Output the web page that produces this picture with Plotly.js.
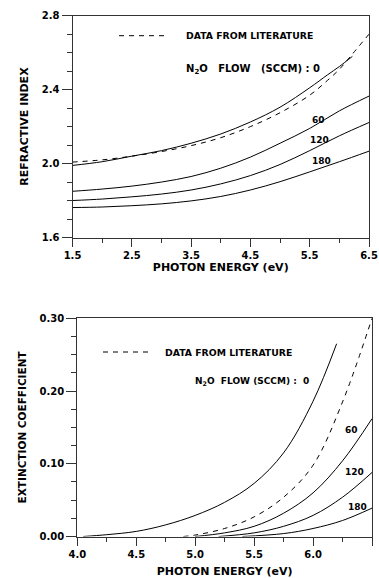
<!DOCTYPE html>
<html>
<head>
<meta charset="utf-8">
<script src="https://cdn.plot.ly/plotly-3.0.1.min.js"></script>
<style>html,body{margin:0;padding:0;background:#fff;}#chart{width:379px;height:578px;}</style>
</head>
<body>
<div id="chart"></div>
<script>
// ---- Refractive index (top panel) ----
const energyN = [1.5, 2.0, 2.5, 3.0, 3.5, 4.0, 4.5, 5.0, 5.5, 6.0, 6.5];
const energyN0 = [1.5, 2.0, 2.5, 3.0, 3.5, 4.0, 4.5, 5.0, 5.5, 5.8, 6.0, 6.22];
const n0 = [1.99, 2.01, 2.04, 2.07, 2.11, 2.16, 2.225, 2.305, 2.41, 2.48, 2.525, 2.58];
const n60 = [1.85, 1.862, 1.878, 1.90, 1.93, 1.975, 2.035, 2.11, 2.19, 2.285, 2.365];
const n120 = [1.80, 1.808, 1.82, 1.835, 1.857, 1.89, 1.935, 1.995, 2.07, 2.15, 2.222];
const n180 = [1.762, 1.765, 1.772, 1.782, 1.798, 1.822, 1.857, 1.902, 1.955, 2.01, 2.067];
const energyLitN = [1.5, 2.0, 2.5, 3.0, 3.5, 4.0, 4.5, 5.0, 5.5, 5.8, 6.0, 6.2, 6.5];
const nLit = [2.008, 2.02, 2.04, 2.065, 2.097, 2.14, 2.2, 2.275, 2.37, 2.45, 2.51, 2.585, 2.70];

// ---- Extinction coefficient (bottom panel) ----
const energyK0 = [4.05, 4.25, 4.5, 4.75, 5.0, 5.25, 5.5, 5.75, 6.0, 6.2];
const k0 = [0, 0.0025, 0.007, 0.016, 0.029, 0.047, 0.073, 0.115, 0.186, 0.265];
const energyK60 = [5.0, 5.25, 5.5, 5.75, 6.0, 6.25, 6.5];
const k60 = [0, 0.005, 0.014, 0.032, 0.06, 0.104, 0.162];
const energyK120 = [5.2, 5.5, 5.75, 6.0, 6.25, 6.5];
const k120 = [0, 0.005, 0.014, 0.029, 0.054, 0.088];
const energyK180 = [5.4, 5.75, 6.0, 6.25, 6.5];
const k180 = [0, 0.004, 0.011, 0.022, 0.039];
const energyKLit = [4.9, 5.0, 5.25, 5.5, 5.75, 6.0, 6.25, 6.5];
const kLit = [0, 0.002, 0.011, 0.027, 0.054, 0.098, 0.185, 0.30];

const flowLabels = ['60', '120', '180'];
const xTicksTop = [1.5, 2.5, 3.5, 4.5, 5.5, 6.5];
const yTicksTop = [1.6, 2.0, 2.4, 2.8];
const xTicksBot = [4.0, 4.5, 5.0, 5.5, 6.0, 6.5];
const yTicksBot = [0.0, 0.1, 0.2, 0.3];

const FONT = 'DejaVu Sans, Verdana, sans-serif';
const solid = {color: '#000', width: 1, shape: 'spline', smoothing: 1};
const dashed = {color: '#000', width: 1, shape: 'spline', smoothing: 1, dash: '5px,5px'};

function tr(x, y, line, xa, ya) {
  return {x: x, y: y, type: 'scatter', mode: 'lines', line: line, xaxis: xa, yaxis: ya, showlegend: false, hoverinfo: 'none'};
}

const data = [
  tr(energyN0, n0, solid, 'x', 'y'),
  tr(energyN, n60, solid, 'x', 'y'),
  tr(energyN, n120, solid, 'x', 'y'),
  tr(energyN, n180, solid, 'x', 'y'),
  tr(energyLitN, nLit, dashed, 'x', 'y'),
  tr(energyK0, k0, solid, 'x2', 'y2'),
  tr(energyK60, k60, solid, 'x2', 'y2'),
  tr(energyK120, k120, solid, 'x2', 'y2'),
  tr(energyK180, k180, solid, 'x2', 'y2'),
  tr(energyKLit, kLit, dashed, 'x2', 'y2')
];

const tickFont = {family: FONT, size: 10, color: '#000', weight: 'bold'};
const titleFont = {family: FONT, size: 11, color: '#000', weight: 'bold'};
const axBase = {
  showgrid: false, zeroline: false, showline: true, linecolor: '#333', linewidth: 1,
  mirror: true, ticks: 'outside', tickcolor: '#333', tickfont: tickFont
};

function ann(x, y, text, xref, yref, size, xanchor) {
  return {x: x, y: y, xref: xref, yref: yref, text: text, showarrow: false,
          xanchor: xanchor || 'left', yanchor: 'middle',
          font: {family: FONT, size: size || 9, color: '#000', weight: 'bold'}};
}

const layout = {
  width: 379, height: 578,
  margin: {l: 0, r: 0, t: 0, b: 0},
  paper_bgcolor: '#fff', plot_bgcolor: '#fff',
  showlegend: false,
  xaxis: Object.assign({}, axBase, {
    domain: [72.5/379, 369/379], anchor: 'y', range: [1.5, 6.5],
    tickvals: xTicksTop, ticktext: xTicksTop.map(v => v.toFixed(1)), ticklen: 8,
    minor: {dtick: 0.5, tick0: 1.5, ticklen: 4, ticks: 'outside', tickcolor: '#333'},
    title: {text: 'PHOTON ENERGY (eV)', font: titleFont, standoff: 3}
  }),
  yaxis: Object.assign({}, axBase, {
    domain: [1 - 237.5/578, 1 - 15.7/578], anchor: 'x', range: [1.6, 2.8],
    tickvals: yTicksTop, ticktext: yTicksTop.map(v => v.toFixed(1)), ticklen: 10,
    minor: {dtick: 0.1, tick0: 1.6, ticklen: 5, ticks: 'outside', tickcolor: '#333'},
    title: {text: 'REFRACTIVE INDEX', font: titleFont, standoff: 10}
  }),
  xaxis2: Object.assign({}, axBase, {
    domain: [77.3/379, 372/379], anchor: 'y2', range: [4.0, 6.5],
    tickvals: xTicksBot, ticktext: xTicksBot.map(v => v.toFixed(1)), ticklen: 8,
    minor: {dtick: 0.25, tick0: 4.0, ticklen: 4, ticks: 'outside', tickcolor: '#333'},
    title: {text: 'PHOTON ENERGY (eV)', font: titleFont, standoff: 9}
  }),
  yaxis2: Object.assign({}, axBase, {
    domain: [1 - 536.5/578, 1 - 318.3/578], anchor: 'x2', range: [0, 0.3],
    tickvals: yTicksBot, ticktext: yTicksBot.map(v => v.toFixed(2)), ticklen: 10,
    minor: {dtick: 0.025, tick0: 0, ticklen: 5, ticks: 'outside', tickcolor: '#333'},
    title: {text: 'EXTINCTION COEFFICIENT', font: {family: FONT, size: 10.5, color: '#000', weight: 'bold'}, standoff: 10}
  }),
  shapes: [
    {type: 'line', xref: 'paper', yref: 'paper', x0: 119/379, x1: 165/379, y0: 1 - 35.7/578, y1: 1 - 35.7/578,
     line: {color: '#000', width: 1, dash: '5px,5px'}},
    {type: 'line', xref: 'paper', yref: 'paper', x0: 103/379, x1: 148/379, y0: 1 - 352/578, y1: 1 - 352/578,
     line: {color: '#000', width: 1, dash: '5px,5px'}}
  ],
  annotations: [
    ann(184/379, 1 - 35.7/578, 'DATA FROM LITERATURE', 'paper', 'paper', 9.3),
    ann(184/379, 1 - 70/578, 'N<sub>2</sub>O&nbsp;&nbsp;&nbsp;FLOW&nbsp;&nbsp;&nbsp;(SCCM)&nbsp;:&nbsp;0', 'paper', 'paper', 10),
    ann(5.5, 2.236, flowLabels[0], 'x', 'y', 9),
    ann(5.47, 2.128, flowLabels[1], 'x', 'y', 9),
    ann(5.5, 2.013, flowLabels[2], 'x', 'y', 9),
    ann(163/379, 1 - 352/578, 'DATA FROM LITERATURE', 'paper', 'paper', 9.3),
    ann(193/379, 1 - 381/578, 'N<sub>2</sub>O&nbsp;&nbsp;FLOW (SCCM) :&nbsp;&nbsp;0', 'paper', 'paper', 9),
    ann(6.25, 0.146, flowLabels[0], 'x2', 'y2', 9),
    ann(6.25, 0.089, flowLabels[1], 'x2', 'y2', 9),
    ann(6.28, 0.041, flowLabels[2], 'x2', 'y2', 9)
  ]
};

Plotly.newPlot('chart', data, layout, {staticPlot: true, displayModeBar: false});
</script>
</body>
</html>
